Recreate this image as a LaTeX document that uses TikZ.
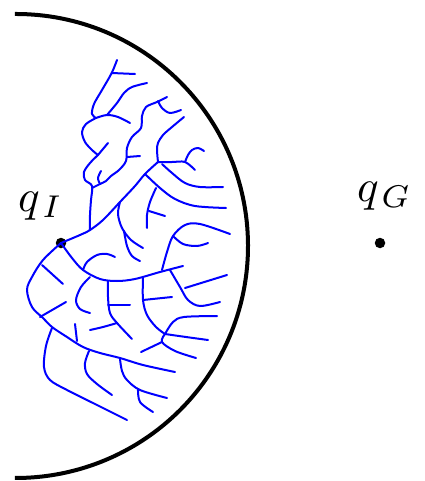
\documentclass[tikz,border=0pt]{standalone}
\usepackage{graphicx}
\tikzset{
  branch/.style={draw=blue, line width=2pt, line cap=round, line join=round},
  bound/.style={draw=black, line width=4pt},
  dot/.style={circle, fill=black, inner sep=0pt, minimum size=10.5pt},
  lab/.style={inner sep=0pt, anchor=base west}
}
\begin{document}
\begin{tikzpicture}[x=1pt,y=-1pt]
\useasboundingbox (0,0) rectangle (424,481);
% boundary arc
\coordinate (arcTop) at (14.8,14);
\draw[bound] (arcTop) arc[start angle=90.3, end angle=-90.3, radius=232pt];
% start and goal
\node[dot] (qI) at (61,243) {};
\node[dot] (qG) at (380,243) {};
\node[lab] (qIlab) at (18,211) {\scalebox{4.5}{$q_{\kern0.9pt I}$}};
\node[lab] (qGlab) at (357,201) {\scalebox{4.5}{$q_{\kern0.9pt G}$}};
% tree
\begin{scope}[smooth, tension=0.55]
% main upper branch
\draw[branch] plot coordinates {(qI.center) (80,235) (90,230) (103,220) (120,202) (135,186) (145,174) (158,162)};
\draw[branch] plot coordinates {(158,162) (157,150) (158,143) (163,135) (172,127) (184,117)};
\draw[branch] plot coordinates {(158,162) (172,162) (185,162) (195,170)};
\draw[branch] plot coordinates {(185,162) (188,155) (192,150) (198,148) (204,151)};
\draw[branch] plot coordinates {(162,164) (172,173) (185,183) (200,187) (223,187)};
\draw[branch] plot coordinates {(145,174) (160,188) (175,199) (195,206) (226,208)};
\draw[branch] plot coordinates {(156,188) (150,202) (147,215) (147,228)};
\draw[branch] (149,211) -- (165,216);
% upper-left cluster
\draw[branch] plot coordinates {(117,60) (111.7,73) (102,90) (94,104) (92,114) (96,118)};
\draw[branch] (111.7,73) -- (135,74);
\draw[branch] plot coordinates {(96,118) (107,115) (118,117) (130,123)};
\draw[branch] plot coordinates {(107,115) (117,103) (124,93) (132,87) (147,83)};
\draw[branch] plot coordinates {(96,118) (86,124) (82,132) (85,142) (92,150) (98,155)};
\draw[branch] (98,155) -- (108,143);
\draw[branch] plot coordinates {(98,155) (90,163) (84,172) (85,180) (92,186) (91,200) (90,215) (90,230)};
% middle stem
\draw[branch] plot coordinates {(92,188) (100,184) (106,181) (111,176) (119,170) (126,161) (127,148) (132,137) (141,128) (142,116) (146,107) (157,102) (167,97)};
\draw[branch] plot coordinates {(100,184) (98,178) (101,171)};
\draw[branch] plot coordinates {(158,101) (162,108) (170,113) (181,110)};
\draw[branch] (127,157) -- (140,156);
% branches off main toward lower right
\draw[branch] plot coordinates {(120,202) (118,214) (122,228) (131,240) (143,248)};
\draw[branch] plot coordinates {(124,231) (127,246) (132,256) (140,261)};
% right-middle cluster
\draw[branch] plot coordinates {(162,270) (167,252) (173,236) (185,225) (200,224) (230,234)};
\draw[branch] plot coordinates {(173,236) (183,244) (197,246) (208,243)};
% lower main
\draw[branch] plot coordinates {(qI.center) (72,258) (83,270) (100,279) (117,281) (135,279) (160,272) (183,266)};
\draw[branch] plot coordinates {(83,270) (87,262) (97,255) (107,254) (115,257)};
\draw[branch] plot coordinates {(170,270) (180,287) (188,300) (200,306) (220,302)};
\draw[branch] (185,288) -- (227,275);
\draw[branch] plot coordinates {(90,277) (81,287) (76,300) (80,309) (90,313)};
\draw[branch] plot coordinates {(108,281) (108,297) (110,313) (117,323) (132,339)};
\draw[branch] (108,305) -- (130,305);
\draw[branch] plot coordinates {(90,330) (103,327) (117,323)};
\draw[branch] plot coordinates {(143,277) (143,300) (147,315) (156,327) (165,334)};
\draw[branch] (143,300) -- (172,297);
\draw[branch] plot coordinates {(165,334) (173,322) (184,317) (217,316)};
\draw[branch] plot coordinates {(165,334) (186,337) (208,340)};
\draw[branch] plot coordinates {(165,334) (162,342) (175,351) (196,358)};
\draw[branch] (141,352) -- (162,342);
% left lobe
\draw[branch] plot coordinates {(qI.center) (43,260) (32,277) (27,290) (32,307) (43,318) (52,327) (67,337) (83,347) (100,353) (120,358) (143,365) (175,372)};
\draw[branch] (42,265) -- (63,284);
\draw[branch] (40,317) -- (66,302);
\draw[branch] (75,324) -- (77,341);
\draw[branch] plot coordinates {(52,328) (46,346) (44,367) (50,380) (67,390) (93,403) (127,420)};
\draw[branch] plot coordinates {(89,351) (85,363) (87,374) (97,384) (112,395)};
\draw[branch] plot coordinates {(120,359) (122,371) (127,380) (140,390) (167,398)};
\draw[branch] plot coordinates {(138,389) (140,402) (153,412)};
\end{scope}
\end{tikzpicture}
\end{document}
